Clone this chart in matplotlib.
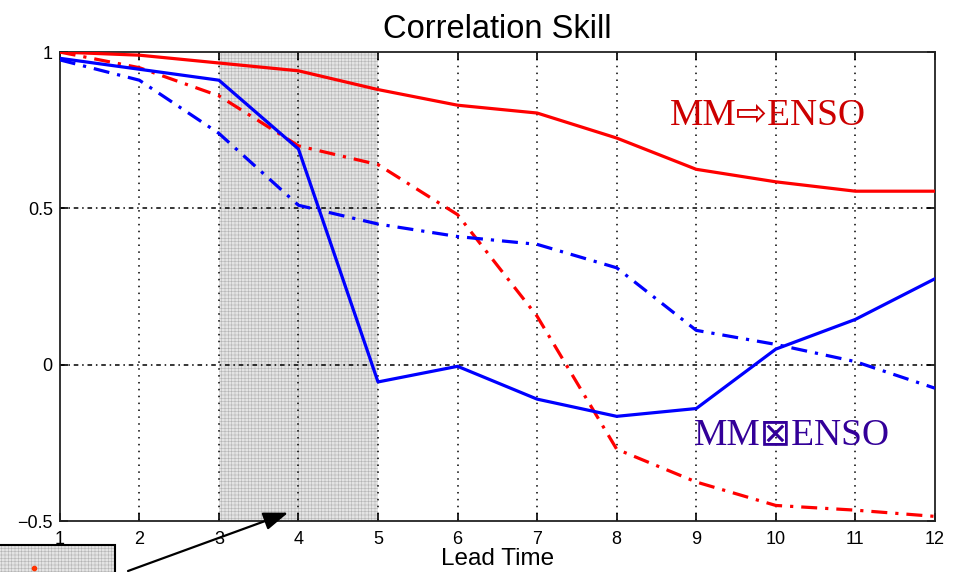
"""
Correlation skill vs lead time, MATLAB-style figure.
"""

import matplotlib
matplotlib.use("Agg")
import matplotlib.pyplot as plt
from matplotlib.patches import Rectangle

# ---------- Data ----------
lead_time = [1, 2, 3, 4, 5, 6, 7, 8, 9, 10, 11, 12]

red_solid = [1.0, 0.99, 0.965, 0.94, 0.88, 0.83, 0.805, 0.725, 0.625, 0.585, 0.555, 0.555]
red_dashdot = [1.0, 0.95, 0.86, 0.70, 0.64, 0.48, 0.155, -0.27, -0.375, -0.45, -0.465, -0.485]
blue_solid = [0.98, 0.945, 0.91, 0.69, -0.055, -0.005, -0.11, -0.165, -0.14, 0.05, 0.145, 0.275]
blue_dashdot = [0.975, 0.91, 0.74, 0.51, 0.45, 0.41, 0.385, 0.31, 0.11, 0.065, 0.01, -0.075]

x_ticks = [1, 2, 3, 4, 5, 6, 7, 8, 9, 10, 11, 12]
y_ticks = [-0.5, 0, 0.5, 1]
y_tick_labels = ["\u22120.5", "0", "0.5", "1"]
shade_span = (3, 5)

plt.rcParams["font.family"] = ["Liberation Sans", "DejaVu Sans"]
plt.rcParams["hatch.linewidth"] = 0.4
plt.rcParams["hatch.color"] = "#b4b4b4"

fig = plt.figure(figsize=(9.8, 5.72), dpi=100)
ax = fig.add_axes([0.061, 0.089, 0.893, 0.82])

# shaded lead-time window
ax.axvspan(shade_span[0], shade_span[1], facecolor="#e4e4e4", hatch="+++++",
           edgecolor="#b4b4b4", linewidth=0, zorder=0)

# grid (MATLAB dotted look)
for v in x_ticks[1:-1]:
    ax.axvline(v, color="black", lw=1.1, ls=(0, (1, 3.5)), zorder=1)
for v in y_ticks[1:-1]:
    ax.axhline(v, color="black", lw=1.1, ls=(0, (3, 2.5, 1, 2.5)), zorder=1)

dd = (0, (5, 2.5, 1, 2.5))
ax.plot(lead_time, red_solid, color="#ff0000", lw=2.3, zorder=3)
ax.plot(lead_time, red_dashdot, color="#ff0000", lw=2.3, ls=dd, zorder=3)
ax.plot(lead_time, blue_dashdot, color="#0000ff", lw=2.3, ls=dd, zorder=3)
ax.plot(lead_time, blue_solid, color="#0000ff", lw=2.3, zorder=4)

ax.set_xlim(1, 12)
ax.set_ylim(-0.5, 1)
ax.set_xticks(x_ticks)
ax.set_yticks(y_ticks)
ax.set_yticklabels(y_tick_labels)
ax.tick_params(direction="in", length=6, width=1.2, labelsize=13,
               top=True, right=True, pad=5)
ax.tick_params(axis="x", pad=7)
for s in ax.spines.values():
    s.set_linewidth(1.3)
    s.set_color("#222222")

ax.set_title("Correlation Skill", fontsize=23.5, pad=10)
ax.set_xlabel("Lead Time", fontsize=17.5, labelpad=0)

# series annotations
serif = ["Liberation Serif", "DejaVu Sans"]
ax.text(9.9, 0.795, "MM\u21e8ENSO", color="#cc0000", fontsize=27,
        family=serif, ha="center", va="center")
ax.text(10.2, -0.225, "MM\u22a0ENSO", color="#330099", fontsize=27,
        family=serif, ha="center", va="center")

# inset box at lower left with arrow pointing into the shaded window
box_fill = Rectangle((-0.01, -0.01), 0.127, 0.057, transform=fig.transFigure,
                     facecolor="#e4e4e4", hatch="+++++", edgecolor="#b4b4b4",
                     linewidth=0, clip_on=False)
box_edge = Rectangle((-0.01, -0.01), 0.127, 0.057, transform=fig.transFigure,
                     facecolor="none", edgecolor="black", linewidth=1.5,
                     clip_on=False)
fig.patches.extend([box_fill, box_edge])
fig.add_artist(plt.Line2D([34 / 980], [4 / 572], marker="o", color="#ff3300",
                          markersize=3, transform=fig.transFigure))
ax.annotate("", xy=(3.87, -0.473), xycoords="data",
            xytext=(128 / 980, 1 / 572), textcoords="figure fraction",
            arrowprops=dict(arrowstyle="-|>,head_length=1.5,head_width=0.55",
                            color="black", lw=1.6, shrinkA=0, shrinkB=0),
            annotation_clip=False)

fig.savefig("out.png", dpi=100)
